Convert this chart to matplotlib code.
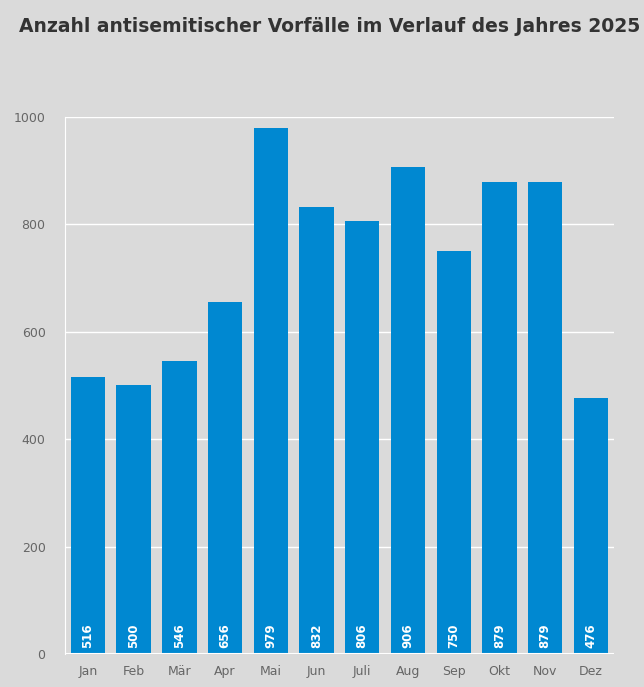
import matplotlib.pyplot as plt

months = ["Jan", "Feb", "Mär", "Apr", "Mai", "Jun", "Juli", "Aug", "Sep", "Okt", "Nov", "Dez"]
counts = [516, 500, 546, 656, 979, 832, 806, 906, 750, 879, 879, 476]
yticks = [0, 200, 400, 600, 800, 1000]

bg = "#dadada"
fig = plt.figure(figsize=(6.44, 6.87), dpi=100, facecolor=bg)
ax = fig.add_axes([0.101, 0.048, 0.852, 0.782], facecolor=bg)

x = range(len(months))
ax.bar(x, counts, width=0.75, color="#0088d1", zorder=3)
for i, v in zip(x, counts):
    ax.text(i, 12, str(v), rotation=90, ha="center", va="bottom",
            color="white", fontsize=8.5, fontweight="bold", zorder=4)

ax.set_xlim(-0.5, len(months) - 0.5)
ax.set_ylim(0, 1000)
ax.set_yticks(yticks)
ax.set_xticks(list(x))
ax.set_xticklabels(months)
ax.grid(axis="y", color="white", linewidth=1, zorder=0)
for s in ["top", "right", "bottom"]:
    ax.spines[s].set_visible(False)
ax.spines["left"].set_color("white")
ax.axhline(0, color="white", linewidth=1.5, zorder=5)
ax.tick_params(length=0, colors="#666666", labelsize=9)
ax.tick_params(axis="y", pad=14)
ax.tick_params(axis="x", pad=8)

fig.text(0.03, 0.962, "Anzahl antisemitischer Vorfälle im Verlauf des Jahres 2025",
         fontsize=13.5, fontweight="bold", color="#333333", va="center")

fig.savefig("out.png", dpi=100, facecolor=bg)
